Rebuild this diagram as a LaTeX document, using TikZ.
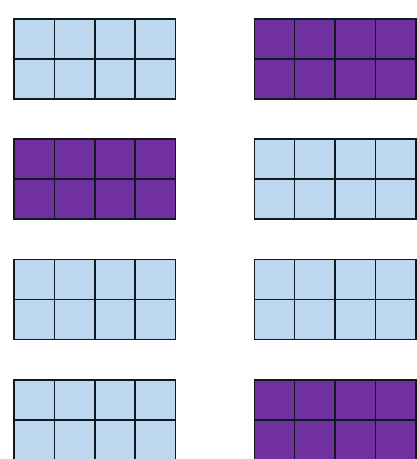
\documentclass[tikz,border=0pt]{standalone}
\usetikzlibrary{calc}
\definecolor{pale}{HTML}{BDD7EE}
\definecolor{plum}{HTML}{7030A0}
\definecolor{ink}{HTML}{101820}

\begin{document}
\begin{tikzpicture}[x=1pt,y=-1pt,
  bar/.style={draw=ink,line width=1.6pt,minimum width=161.5pt,minimum height=80pt,anchor=north west,inner sep=0pt,outer sep=0pt},
  rule/.style={draw=ink,line width=1.6pt}]
 \useasboundingbox[fill=white] (0,0) rectangle (417,459);
 % eight 4x2 bars, two columns
 \foreach \n/\x/\y/\col in {a/14/19/pale, b/254.3/19/plum, c/14/139/plum, d/254.3/139/pale, e/14/259.5/pale, f/254.3/259.5/pale, g/14/380/pale, h/254.3/380/plum}{
  \node[bar,fill=\col] (\n) at (\x,\y) {};
  \draw[rule] (\n.west) -- (\n.east);
  \foreach \t in {0.25,0.5,0.75}
   \draw[rule] ($(\n.north west)!\t!(\n.north east)$) -- ($(\n.south west)!\t!(\n.south east)$);
 }
\end{tikzpicture}
\end{document}
